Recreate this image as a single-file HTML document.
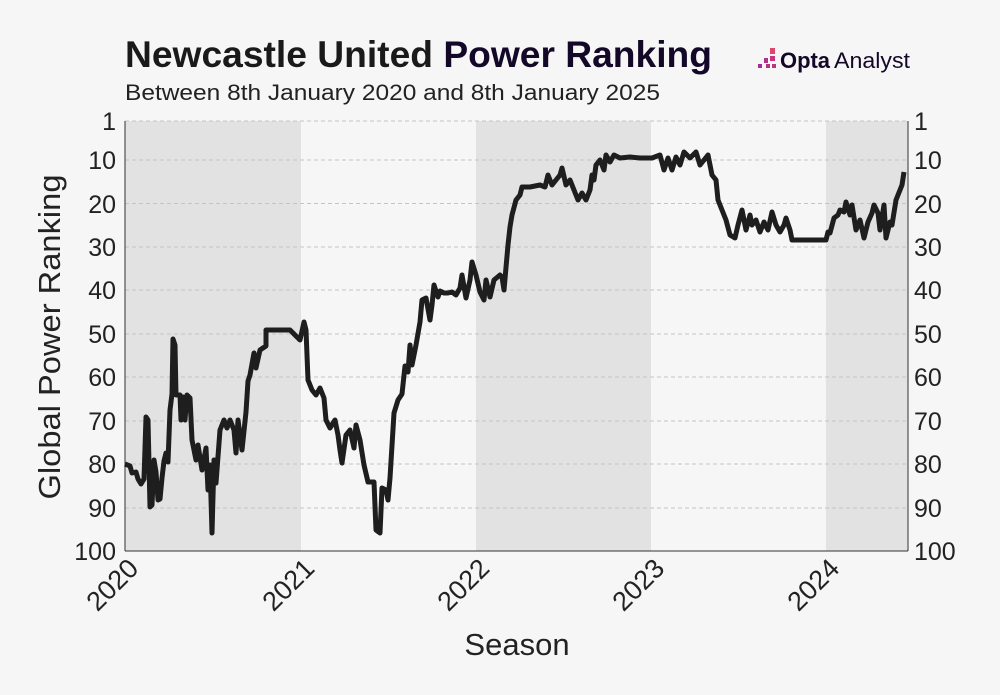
<!DOCTYPE html>
<html><head><meta charset="utf-8"><style>
body{margin:0;background:#f6f6f6;}
svg{display:block;font-family:"Liberation Sans",sans-serif;}
</style></head><body>
<svg width="1000" height="695" viewBox="0 0 1000 695">
<rect width="1000" height="695" fill="#f6f6f6"/>
<text x="125" y="67" font-size="37" font-weight="bold" fill="#1a1a1a" textLength="587" lengthAdjust="spacingAndGlyphs">Newcastle United <tspan fill="#140828">Power Ranking</tspan></text>
<text x="125" y="100" font-size="22" fill="#222" textLength="535" lengthAdjust="spacingAndGlyphs">Between 8th January 2020 and 8th January 2025</text>
<g fill="#e0456a"><rect x="770" y="48" width="5" height="6"/><rect x="770" y="56" width="5" height="5" fill="#c8357a"/><rect x="764" y="58" width="4" height="5" fill="#b0308a"/><rect x="758" y="64" width="4" height="4" fill="#a02e95"/><rect x="766" y="64" width="4" height="4" fill="#b83085"/><rect x="772" y="64" width="4" height="4" fill="#c03280"/></g>
<text x="780" y="68" font-size="22" font-weight="bold" fill="#140828" textLength="50" lengthAdjust="spacingAndGlyphs">Opta</text><text x="834" y="68" font-size="22" fill="#140828" textLength="76" lengthAdjust="spacingAndGlyphs">Analyst</text>
<g fill="#e2e2e3"><rect x="125" y="121" width="176" height="430"/><rect x="476" y="121" width="175" height="430"/><rect x="826" y="121" width="82" height="430"/></g>
<g stroke="#c4c4c4" stroke-dasharray="4,3" stroke-width="1">
<line x1="125" x2="908" y1="121" y2="121"/><line x1="125" x2="908" y1="160" y2="160"/><line x1="125" x2="908" y1="203.5" y2="203.5"/><line x1="125" x2="908" y1="247" y2="247"/><line x1="125" x2="908" y1="290" y2="290"/><line x1="125" x2="908" y1="334" y2="334"/><line x1="125" x2="908" y1="377" y2="377"/><line x1="125" x2="908" y1="421" y2="421"/><line x1="125" x2="908" y1="464" y2="464"/><line x1="125" x2="908" y1="508" y2="508"/></g>
<g stroke="#333" stroke-width="1"><line x1="125" y1="121" x2="125" y2="551"/><line x1="908" y1="121" x2="908" y2="551"/><line x1="125" y1="551" x2="908" y2="551"/></g>
<g font-size="25" fill="#222" text-anchor="end">
<text x="116" y="130">1</text><text x="116" y="169">10</text><text x="116" y="213">20</text><text x="116" y="256">30</text><text x="116" y="299">40</text><text x="116" y="343">50</text><text x="116" y="386">60</text><text x="116" y="430">70</text><text x="116" y="473">80</text><text x="116" y="517">90</text><text x="116" y="560">100</text></g>
<g font-size="25" fill="#222" text-anchor="start">
<text x="914" y="130">1</text><text x="914" y="169">10</text><text x="914" y="213">20</text><text x="914" y="256">30</text><text x="914" y="299">40</text><text x="914" y="343">50</text><text x="914" y="386">60</text><text x="914" y="430">70</text><text x="914" y="473">80</text><text x="914" y="517">90</text><text x="914" y="560">100</text></g>
<g font-size="27" fill="#222" text-anchor="end">
<text transform="translate(140,570) rotate(-45)">2020</text><text transform="translate(316,570) rotate(-45)">2021</text><text transform="translate(491,570) rotate(-45)">2022</text><text transform="translate(666,570) rotate(-45)">2023</text><text transform="translate(841,570) rotate(-45)">2024</text></g>
<text x="517" y="655" font-size="31" fill="#222" text-anchor="middle">Season</text>
<text transform="translate(60,337) rotate(-90)" font-size="31" fill="#222" text-anchor="middle" textLength="325" lengthAdjust="spacingAndGlyphs">Global Power Ranking</text>
<polyline fill="none" stroke="#1e1e1e" stroke-width="5" stroke-linejoin="round" points="125,464 130,466 132,473 136,472 138,479 141,484 144,479 146,417 148,420 150,507 152,505 154,460 156,472 158,500 160,499 162,478 164,461 166,453 168,462 170,410 172,394 173,339 175,345 176,395 180,395 181,420 183,397 185,420 187,395 190,398 192,440 196,460 198,445 202,470 206,448 208,490 210,465 212,533 214,460 216,483 220,430 224,420 227,428 230,420 234,430 236,453 238,420 242,450 246,412 248,381 250,375 254,353 256,368 260,350 266,346 266,330 290,330 300,340 304,322 306,330 308,380 312,390 316,395 320,388 324,398 326,420 330,428 335,420 338,435 340,450 342,463 346,435 350,430 354,448 356,425 360,440 364,465 368,482 374,482 376,530 380,533 382,488 386,490 388,500 390,478 394,413 398,400 402,394 405,366 408,372 410,345 412,365 416,345 420,322 422,300 426,298 430,320 432,305 434,285 438,297 440,291 444,293 448,293 452,292 456,295 460,288 462,275 466,298 470,280 472,262 476,275 480,292 484,300 486,280 490,297 494,280 500,275 502,277 504,290 508,245 510,227 512,215 516,200 520,195 522,187 530,187 540,185 545,187 548,175 552,185 556,180 560,175 562,168 566,185 570,180 574,190 578,200 582,193 586,200 590,190 592,175 594,180 596,165 600,160 604,170 606,155 610,162 614,155 620,158 630,157 640,158 652,158 660,155 664,170 668,158 672,170 676,157 680,165 684,152 690,158 696,152 700,165 704,160 708,155 712,175 716,180 718,200 722,210 726,220 730,235 735,238 738,225 742,210 746,230 750,215 752,225 756,220 760,232 764,222 768,230 772,212 776,225 780,232 784,225 786,218 790,230 792,240 800,240 810,240 826,240 828,232 830,233 834,218 838,215 840,210 844,212 846,202 850,215 852,205 856,230 860,220 864,238 868,222 872,213 874,205 878,213 880,230 884,205 886,238 890,222 892,225 896,200 898,195 900,190 902,185 904,172"/>
</svg>
</body></html>
